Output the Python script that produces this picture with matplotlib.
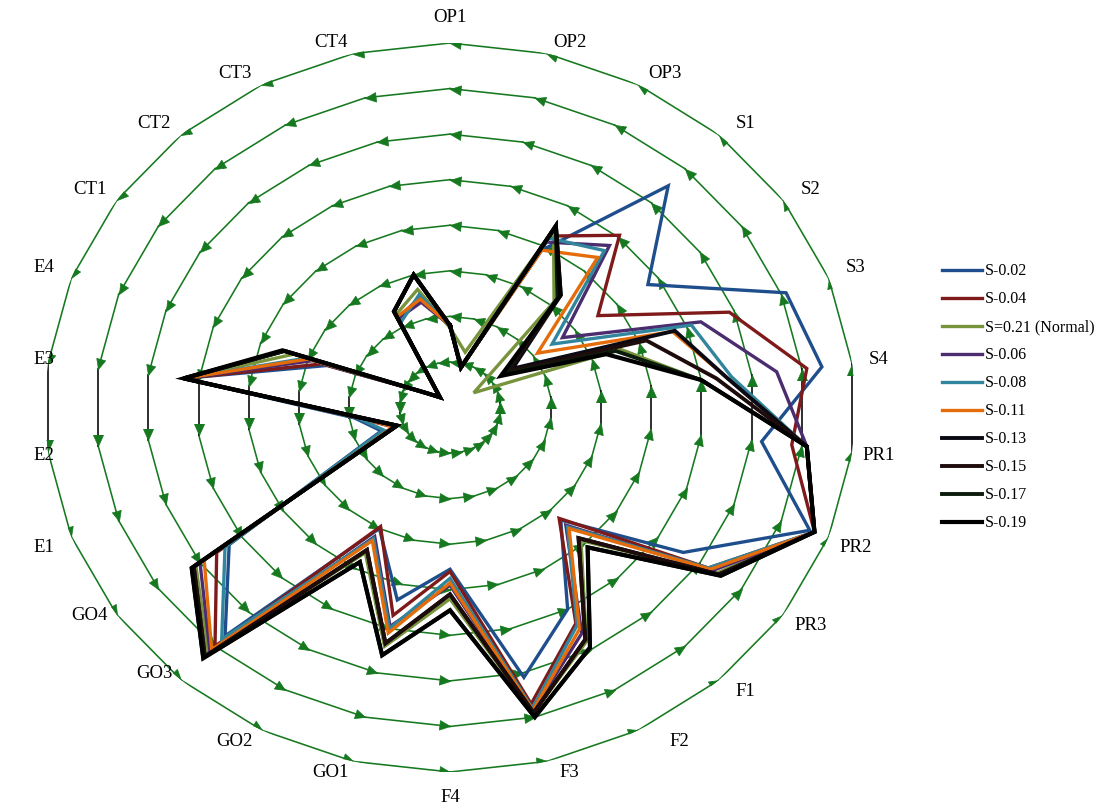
import numpy as np
import matplotlib
matplotlib.use('Agg')
import matplotlib.pyplot as plt

plt.rcParams['font.family'] = ['Liberation Serif', 'DejaVu Serif']

# axes of the radar, clockwise from the top
categories = ['OP1', 'OP2', 'OP3', 'S1', 'S2', 'S3', 'S4', 'PR1', 'PR2', 'PR3',
              'F1', 'F2', 'F3', 'F4', 'GO1', 'GO2', 'GO3', 'GO4',
              'E1', 'E2', 'E3', 'E4', 'CT1', 'CT2', 'CT3', 'CT4']

# values (ring spacing = 1)
s002 = [1.8, 0.9, 3.9, 6.5, 4.75, 7.1, 7.4, 6.2, 7.6, 5.6,
        3.3, 5.0, 6.1, 3.55, 4.35, 3.0, 6.7, 5.3,
        1.45, 1.9, 5.3, 2.6, 0.55, 0.3, 2.2, 2.45]
s004 = [1.8, 0.9, 4.25, 5.05, 3.55, 5.9, 7.1, 6.8, 7.7, 6.2,
        3.25, 5.35, 6.7, 3.6, 4.7, 2.95, 7.0, 5.6,
        1.2, 1.85, 5.3, 2.7, 0.55, 0.3, 2.2, 2.5]
normal = [1.75, 1.25, 4.4, 3.1, 0.57, 3.6, 5.0, 7.1, 7.7, 6.4,
          3.9, 5.8, 6.9, 4.2, 5.4, 3.6, 7.2, 6.1,
          1.15, 1.8, 5.3, 3.3, 0.55, 0.3, 2.3, 2.67]
s006 = [1.8, 0.9, 4.1, 4.75, 2.7, 5.3, 6.5, 7.1, 7.7, 6.3,
        3.45, 5.6, 6.85, 3.9, 4.95, 3.2, 7.15, 6.0,
        1.15, 1.8, 5.3, 2.9, 0.55, 0.3, 2.2, 2.38]
s008 = [1.8, 0.9, 4.2, 4.6, 2.45, 5.1, 5.6, 7.1, 7.7, 6.2,
        3.5, 5.4, 6.8, 3.75, 5.0, 3.25, 6.8, 5.4,
        1.4, 1.85, 5.3, 3.05, 0.55, 0.3, 2.1, 2.55]
s011 = [1.8, 0.9, 3.9, 4.4, 2.1, 4.7, 5.5, 7.1, 7.7, 6.25,
        3.55, 5.5, 6.85, 3.85, 5.1, 3.3, 7.1, 5.9,
        1.2, 1.8, 5.3, 3.0, 0.55, 0.3, 2.25, 2.45]
s013 = [1.8, 0.9, 4.5, 3.3, 1.5, 4.75, 5.5, 7.1, 7.7, 6.45,
        3.83, 5.75, 6.9, 4.1, 5.33, 3.53, 7.3, 6.15,
        1.12, 1.8, 5.3, 3.5, 0.55, 0.3, 2.38, 3.0]
s015 = [1.8, 0.9, 4.5, 3.3, 1.4, 4.15, 5.3, 7.1, 7.7, 6.45,
        3.83, 5.75, 6.9, 4.1, 5.33, 3.53, 7.3, 6.15,
        1.12, 1.8, 5.3, 3.5, 0.55, 0.3, 2.38, 3.0]
s017 = [1.8, 0.9, 4.5, 3.2, 1.3, 3.5, 5.0, 7.1, 7.7, 6.5,
        4.1, 5.95, 7.0, 4.45, 5.6, 3.83, 7.35, 6.2,
        1.12, 1.8, 5.3, 3.5, 0.55, 0.3, 2.38, 3.0]
s019 = [1.8, 0.92, 4.5, 3.28, 1.22, 3.3, 5.0, 7.1, 7.7, 6.5,
        4.1, 5.95, 7.0, 4.45, 5.6, 3.83, 7.35, 6.2,
        1.12, 1.8, 5.3, 3.54, 0.55, 0.3, 2.38, 3.0]

labels = ['S-0.02', 'S-0.04', 'S=0.21 (Normal)', 'S-0.06', 'S-0.08',
          'S-0.11', 'S-0.13', 'S-0.15', 'S-0.17', 'S-0.19']
colors = ['#1F4E8C', '#7E1A1A', '#77933C', '#4B2C6E', '#31859C',
          '#E46C0A', '#0A0A14', '#1E0C0C', '#0C1C0C', '#000000']
widths = [2.4, 2.4, 2.4, 2.4, 2.4, 2.4, 2.8, 2.8, 2.8, 3.0]
data = [s002, s004, normal, s006, s008, s011, s013, s015, s017, s019]

rings = [1, 2, 3, 4, 5, 6, 7, 8]
grid_green = '#16791F'

n = len(categories)
theta = np.arange(n) * 2 * np.pi / n

fig = plt.figure(figsize=(11.03, 8.05), dpi=100)
ax = fig.add_axes([45 / 1103, 33 / 805, 810 / 1103, 729 / 805], projection='polar')
ax.set_aspect('auto')
ax.set_theta_zero_location('N')
ax.set_theta_direction(-1)
ax.set_ylim(0, 8)
ax.grid(False)
ax.set_xticks([])
ax.set_yticks([])
ax.spines['polar'].set_visible(False)
ax.patch.set_visible(False)

# polygon grid rings, edges S4-PR1 and E3-E2 drawn black as in the source
th_next = np.append(theta[1:], 2 * np.pi)
for r in rings:
    for k in range(n):
        col = 'black' if k in (6, 19) else grid_green
        ax.plot([theta[k], th_next[k]], [r, r], color=col, lw=1.15, zorder=1)

# arrow heads at every ring vertex, pointing counter-clockwise
pts = ax.transData.transform(np.column_stack([theta, np.full(n, 8.0)]))
for k in range(n):
    d = pts[k] - pts[(k + 1) % n]
    ang = np.arctan2(d[1], d[0]) - np.pi / 2
    tri = np.array([[0, 0], [-0.45, -1], [0.45, -1], [0, 0]])
    c, s = np.cos(ang), np.sin(ang)
    tri = tri @ np.array([[c, s], [-s, c]])
    ax.plot(np.full(len(rings), theta[k]), rings, ls='none', marker=tri,
            ms=16, color=grid_green, mec=grid_green, mew=0.5, zorder=2)

# data series
handles = []
for vals, lab, col, lw in zip(data, labels, colors, widths):
    v = np.append(vals, vals[0])
    t = np.append(theta, theta[0])
    h, = ax.plot(t, v, color=col, lw=lw, label=lab, zorder=3, solid_joinstyle='miter')
    handles.append(h)

# category labels outside the outer ring, kept inside the chart area
renderer = fig.canvas.get_renderer()
px = 72.0 / fig.dpi
for k, cat in enumerate(categories):
    sx, sy = np.sin(theta[k]), np.cos(theta[k])
    if abs(sx) < 0.05:
        dx, dy = 0.0, 25.0 * np.sign(sy)
    else:
        dx = 27.0 * np.sign(sx) * min(1.0, 3.5 * abs(sx))
        dy = 11.0 * np.sign(sy) * min(1.0, 3.0 * abs(sy))
    if cat == 'GO3':
        dy += 18
    if cat == 'GO4':
        dy += 10
    if cat == 'F2':
        dx += 14
    txt = ax.annotate(cat, xy=(theta[k], 8), xytext=(dx * px, dy * px),
                      textcoords='offset points', ha='center', va='center',
                      fontsize=13.5, annotation_clip=False)
    bb = txt.get_window_extent(renderer)
    if bb.x0 < 33:
        txt.xyann = ((dx + 33 - bb.x0) * px, dy * px)

fig.legend(handles=handles, labels=labels, loc='upper left',
           bbox_to_anchor=(928 / 1103, 1 - 249 / 805), frameon=False,
           fontsize=11.5, handlelength=2.5, handletextpad=0.15, labelspacing=0.75)

fig.savefig('out.png', dpi=100)
